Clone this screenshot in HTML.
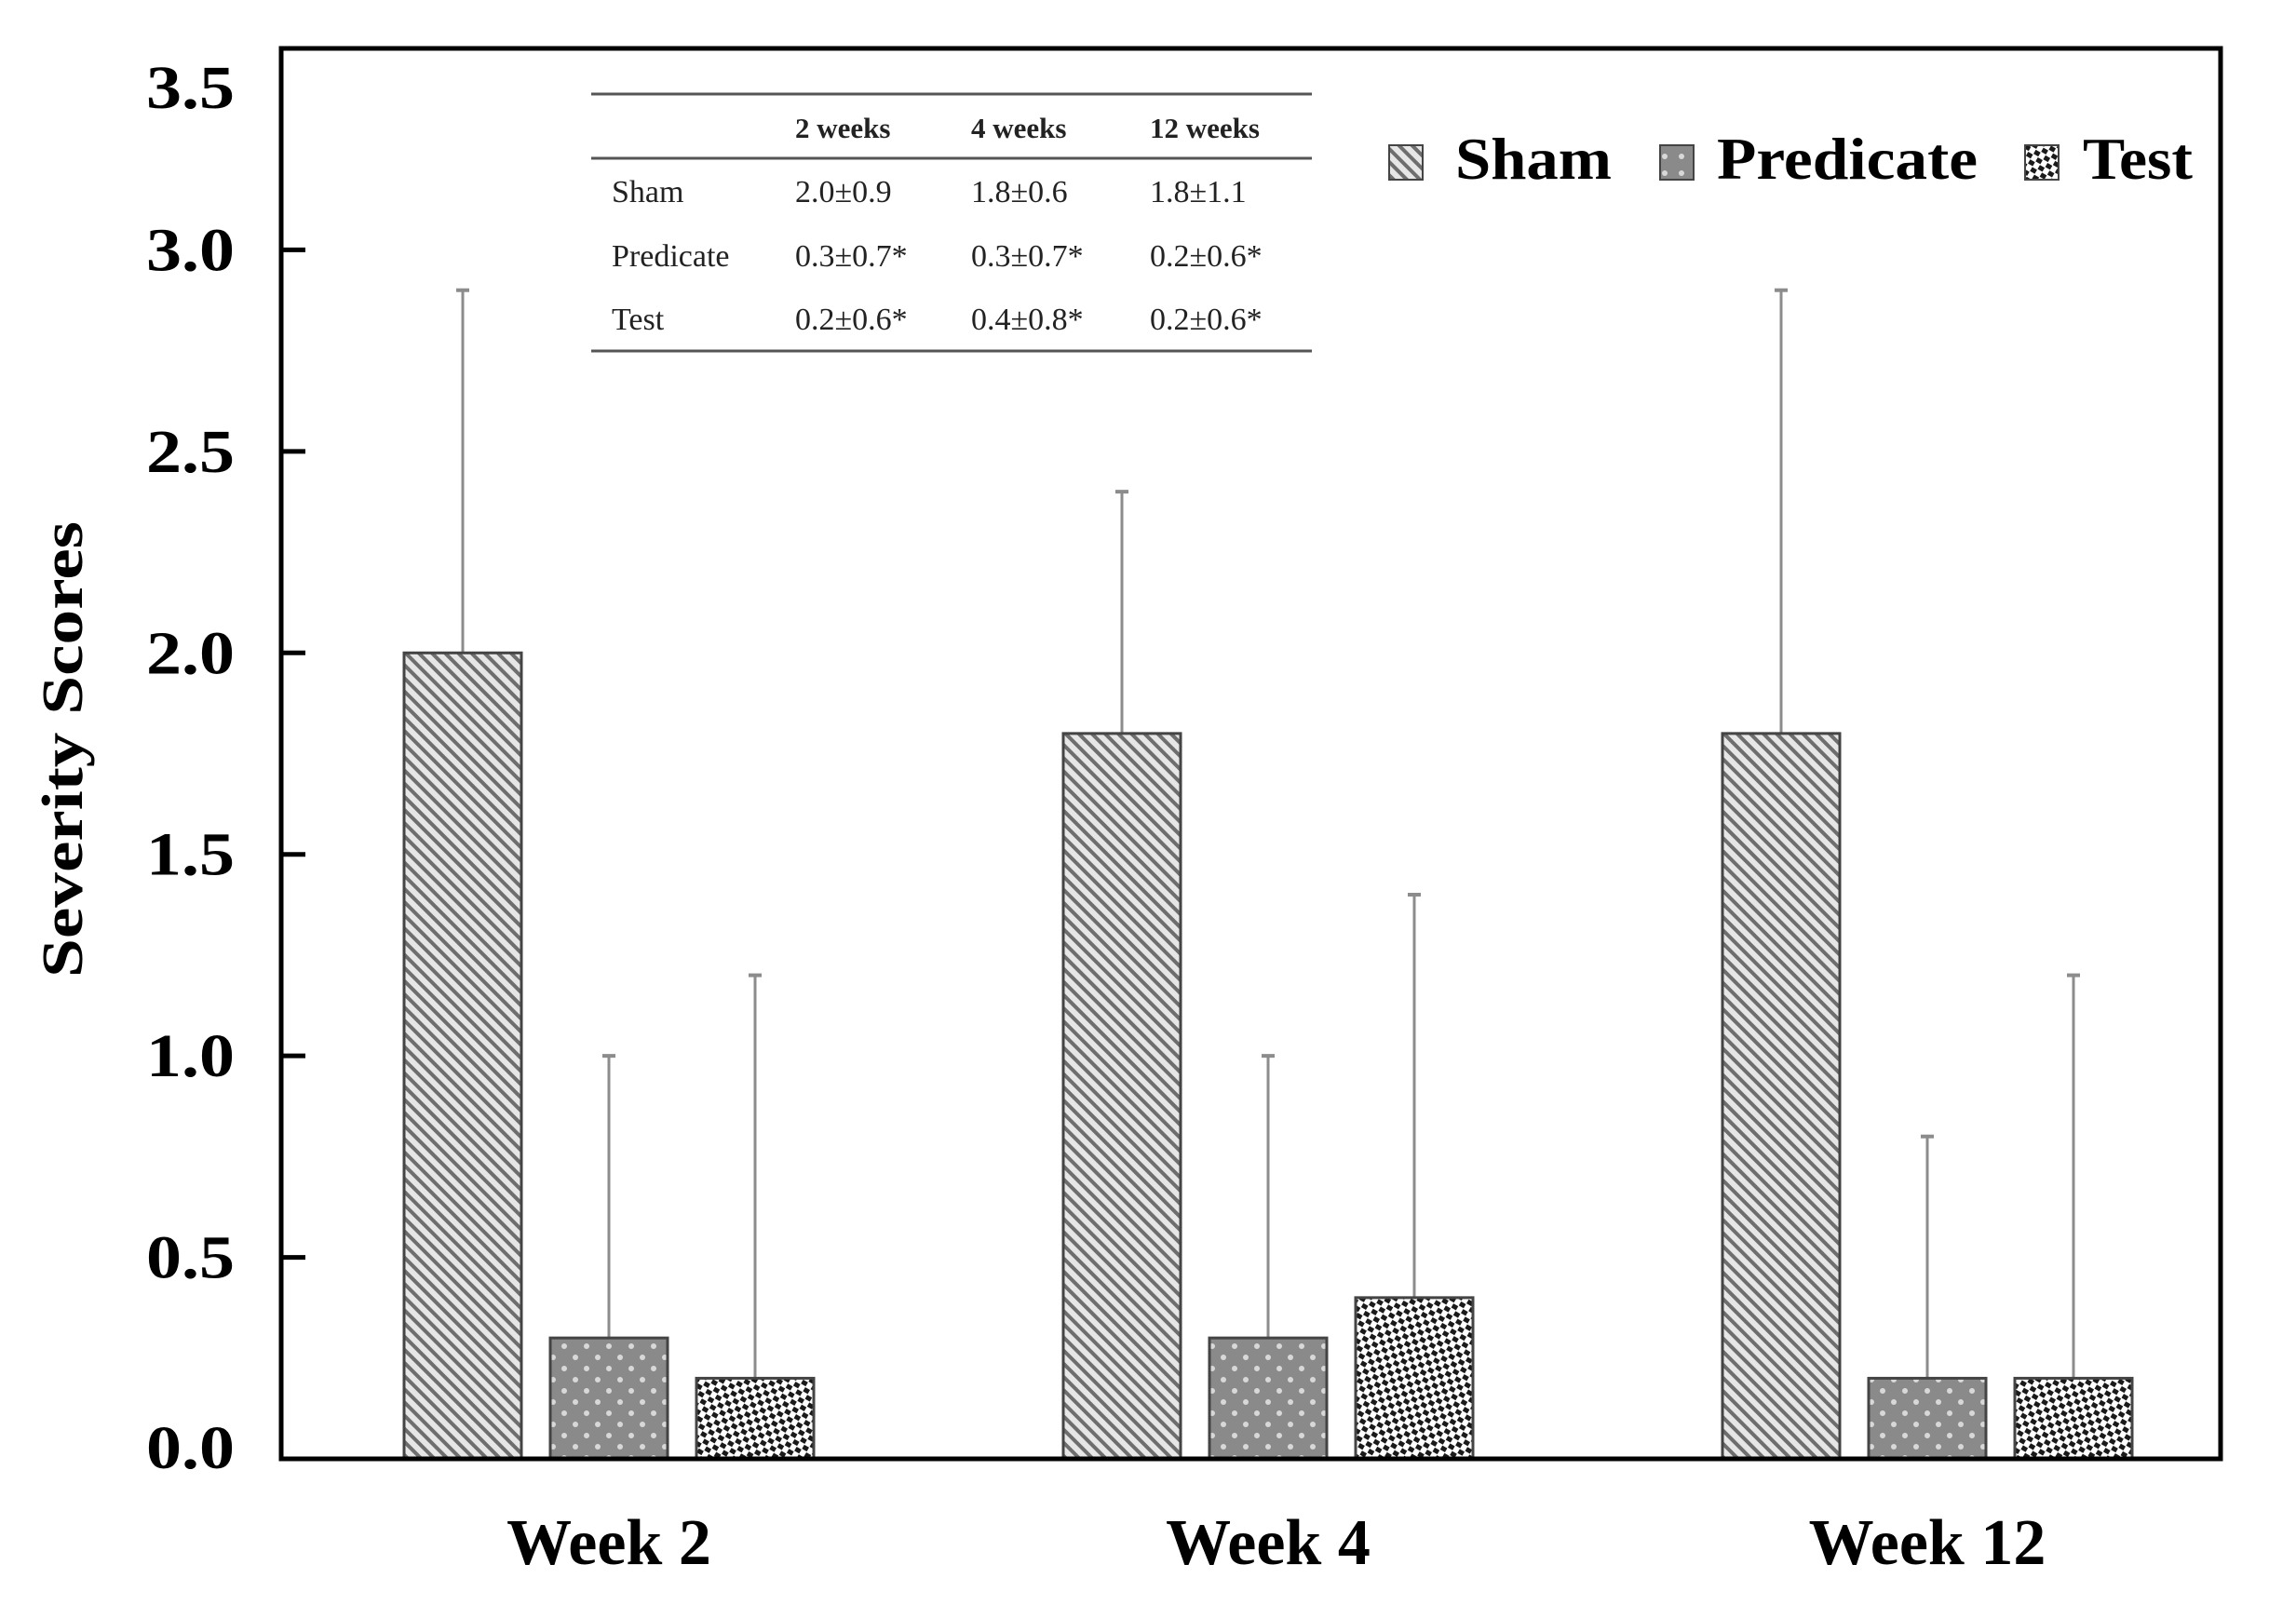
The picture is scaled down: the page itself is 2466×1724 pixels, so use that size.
<!DOCTYPE html>
<html><head><meta charset="utf-8"><style>
html,body{margin:0;padding:0;background:#fff;}
svg{display:block;font-family:"Liberation Serif",serif;}
</style></head><body>
<svg id="chart" width="2466" height="1724" viewBox="0 0 2466 1724">
<defs>
<pattern id="hatch" width="10" height="10" patternUnits="userSpaceOnUse" patternTransform="rotate(-45)">
<rect width="10" height="10" fill="#e6e6e6"/><rect width="4" height="10" fill="#6e6e6e"/></pattern>
<pattern id="dots" width="24" height="24" patternUnits="userSpaceOnUse">
<rect width="24" height="24" fill="#8a8a8a"/><circle cx="6" cy="6" r="3" fill="#d8d8d8"/><circle cx="18" cy="18" r="3" fill="#d8d8d8"/></pattern>
<pattern id="ldots" width="18" height="18" patternUnits="userSpaceOnUse">
<rect width="18" height="18" fill="#8a8a8a"/><circle cx="6" cy="6" r="3" fill="#d8d8d8"/></pattern>
<pattern id="cross" width="12" height="12" patternUnits="userSpaceOnUse" patternTransform="rotate(30)">
<rect width="12" height="12" fill="#fff"/><rect x="0" y="0" width="6" height="5" fill="#1a1a1a"/><rect x="6" y="6" width="6" height="5" fill="#1a1a1a"/></pattern>
</defs>
<g id="bars"></g>
<rect x="302" y="52" width="2083" height="1515" fill="none" stroke="#000" stroke-width="5"/>
<g id="yaxis"></g>
<text x="88" y="805" transform="rotate(-90 88 805)" text-anchor="middle" font-weight="bold" font-size="62" textLength="490" lengthAdjust="spacingAndGlyphs">Severity Scores</text>
<g font-size="34" fill="#222">
<line x1="635" y1="101" x2="1409" y2="101" stroke="#555" stroke-width="3"/>
<line x1="635" y1="170" x2="1409" y2="170" stroke="#555" stroke-width="3"/>
<line x1="635" y1="377" x2="1409" y2="377" stroke="#555" stroke-width="3"/>
<g font-weight="bold" font-size="31">
<text x="854" y="148">2 weeks</text>
<text x="1043" y="148">4 weeks</text>
<text x="1235" y="148">12 weeks</text>
</g>
<text x="657" y="217">Sham</text>
<text x="854" y="217">2.0±0.9</text><text x="1043" y="217">1.8±0.6</text><text x="1235" y="217">1.8±1.1</text>
<text x="657" y="286">Predicate</text>
<text x="854" y="286">0.3±0.7*</text><text x="1043" y="286">0.3±0.7*</text><text x="1235" y="286">0.2±0.6*</text>
<text x="657" y="354">Test</text>
<text x="854" y="354">0.2±0.6*</text><text x="1043" y="354">0.4±0.8*</text><text x="1235" y="354">0.2±0.6*</text>
</g>
<g font-weight="bold" font-size="64">
<g><rect x="1492" y="156" width="36" height="37" fill="url(#hatch)" stroke="#444" stroke-width="2"/><text x="1563" y="192" textLength="168" lengthAdjust="spacingAndGlyphs">Sham</text></g>
<g><rect x="1783" y="156" width="36" height="37" fill="url(#ldots)" stroke="#444" stroke-width="2"/><text x="1844" y="192" textLength="280" lengthAdjust="spacingAndGlyphs">Predicate</text></g>
<g><rect x="2175" y="156" width="36" height="37" fill="url(#cross)" stroke="#444" stroke-width="2"/><text x="2237" y="192" textLength="118" lengthAdjust="spacingAndGlyphs">Test</text></g>
</g>
<g id="xaxis"></g>
</svg>
<script>
const categories = ["Week 2", "Week 4", "Week 12"];
const shamMeans = [2.0, 1.8, 1.8];
const predicateMeans = [0.3, 0.3, 0.2];
const testMeans = [0.2, 0.4, 0.2];
const shamTops = [2.9, 2.4, 2.9];
const predicateTops = [1.0, 1.0, 0.8];
const testTops = [1.2, 1.4, 1.2];
const yTicks = ["0.0","0.5","1.0","1.5","2.0","2.5","3.0","3.5"];

const NS = "http://www.w3.org/2000/svg";
const y0 = 1567, yTop = 52, yMax = 3.5;
function y(v){ return y0 - (y0 - yTop) * v / yMax; }
const groupStart = 654, groupStep = 708;
function xc(i){ return groupStart + i * groupStep; }
const series = [
 {name:"sham", means:shamMeans, tops:shamTops, fill:"url(#hatch)", off:-157},
 {name:"predicate", means:predicateMeans, tops:predicateTops, fill:"url(#dots)", off:0},
 {name:"test", means:testMeans, tops:testTops, fill:"url(#cross)", off:157}
];
function mk(tag, attrs, parent){ const e=document.createElementNS(NS,tag); for(const k in attrs) e.setAttribute(k, attrs[k]); parent.appendChild(e); return e; }
const bars = document.getElementById("bars");
const bw = 126;
series.forEach(s=>{
 categories.forEach((c,i)=>{
  const cx = xc(i) + s.off;
  const err = mk("line",{x1:cx,x2:cx,y1:y(s.means[i]),y2:y(s.tops[i]),stroke:"#8c8c8c","stroke-width":3},bars);
  
  
  const cap = mk("line",{x1:cx-7,x2:cx+7,y1:y(s.tops[i]),y2:y(s.tops[i]),stroke:"#8c8c8c","stroke-width":4},bars);
  
  
  const r = mk("rect",{x:cx-bw/2,y:y(s.means[i]),width:bw,height:y0-y(s.means[i]),fill:s.fill,stroke:"#444","stroke-width":3},bars);
  
  
 });
});
const ya = document.getElementById("yaxis");
yTicks.forEach(t=>{
 const v = parseFloat(t), yy = y(v);
 if (v>0 && v<yMax){
  const tk = mk("line",{x1:302,x2:328,y1:yy,y2:yy,stroke:"#000","stroke-width":5},ya);
  
  
 }
 const ly = Math.min(Math.max(yy, yTop + 42), y0 - 12);
 const tl = mk("text",{x:252,y:ly+22,"text-anchor":"end","font-weight":"bold","font-size":66,textLength:95,lengthAdjust:"spacingAndGlyphs"},ya);
 tl.textContent = t;
 
 
});
const xa = document.getElementById("xaxis");
categories.forEach((c,i)=>{
 const t = mk("text",{x:xc(i),y:1680,"text-anchor":"middle","font-weight":"bold","font-size":70},xa);
 t.textContent = c;
 
 
});
</script>
</body></html>
